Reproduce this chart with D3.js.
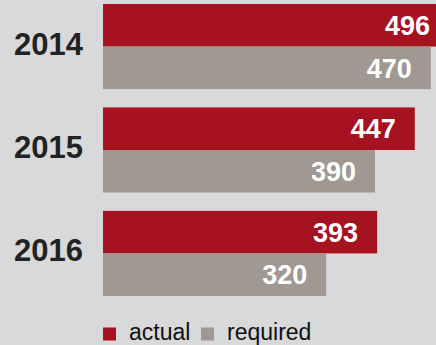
<!DOCTYPE html>
<html>
<head>
<meta charset="utf-8">
<script src="https://cdn.jsdelivr.net/npm/d3@7"></script>
<style>
  html, body { margin: 0; padding: 0; background: #d8d9db; }
  svg { display: block; }
  text { font-family: "Liberation Sans", Arial, Helvetica, sans-serif; }
</style>
</head>
<body>
<svg id="chart" width="436" height="345"></svg>
<script>
// Data
const years = ["2014", "2015", "2016"];
const seriesNames = ["actual", "required"];
const actualValues = [496, 447, 393];
const requiredValues = [470, 390, 320];
const seriesColors = ["#a6121f", "#a19894"];

const width = 436, height = 345;
const svg = d3.select("#chart");

svg.append("rect")
  .attr("width", width).attr("height", height)
  .attr("fill", "#d8d9db");

const rows = years.map((y, i) => ({
  year: y,
  values: [
    { key: seriesNames[0], value: actualValues[i] },
    { key: seriesNames[1], value: requiredValues[i] }
  ]
}));

// Scales
const x = d3.scaleLinear().domain([0, 500]).range([103, 451.75]);
const y = d3.scaleBand().domain(years).range([4, 296]).paddingInner(0.177).paddingOuter(0);
const ySub = d3.scaleBand().domain(seriesNames).range([0, y.bandwidth()]).padding(0);
const color = d3.scaleOrdinal().domain(seriesNames).range(seriesColors);

const plot = svg.append("g");

const groups = plot.selectAll("g.year")
  .data(rows)
  .join("g")
  .attr("class", "year")
  .attr("transform", d => `translate(0,${y(d.year)})`);

// Year labels
groups.append("text")
  .attr("x", 83)
  .attr("y", y.bandwidth() / 2)
  .attr("dy", "0.26em")
  .attr("text-anchor", "end")
  .attr("font-size", 31)
  .attr("font-weight", "bold")
  .attr("fill", "#222")
  .text(d => d.year);

// Bars
groups.selectAll("rect")
  .data(d => d.values)
  .join("rect")
  .attr("x", x(0))
  .attr("y", d => ySub(d.key))
  .attr("width", d => x(d.value) - x(0))
  .attr("height", ySub.bandwidth())
  .attr("fill", d => color(d.key));

// Value labels inside bar ends
groups.selectAll("text.val")
  .data(d => d.values)
  .join("text")
  .attr("class", "val")
  .attr("x", d => x(d.value) - 19)
  .attr("y", d => ySub(d.key) + ySub.bandwidth() / 2)
  .attr("dy", "0.36em")
  .attr("text-anchor", "end")
  .attr("font-size", 27)
  .attr("font-weight", "bold")
  .attr("fill", "#ffffff")
  .text(d => d.value);

// Legend
const legend = svg.append("g").attr("transform", "translate(103,327.5)");
const legendOffsets = [0, 98];
const items = legend.selectAll("g")
  .data(seriesNames)
  .join("g")
  .attr("transform", (d, i) => `translate(${legendOffsets[i]},0)`);
items.append("rect")
  .attr("width", 13).attr("height", 13)
  .attr("fill", d => color(d));
items.append("text")
  .attr("x", 26)
  .attr("y", 12)
  .attr("font-size", 23)
  .attr("fill", "#111")
  .text(d => d);
</script>
</body>
</html>
